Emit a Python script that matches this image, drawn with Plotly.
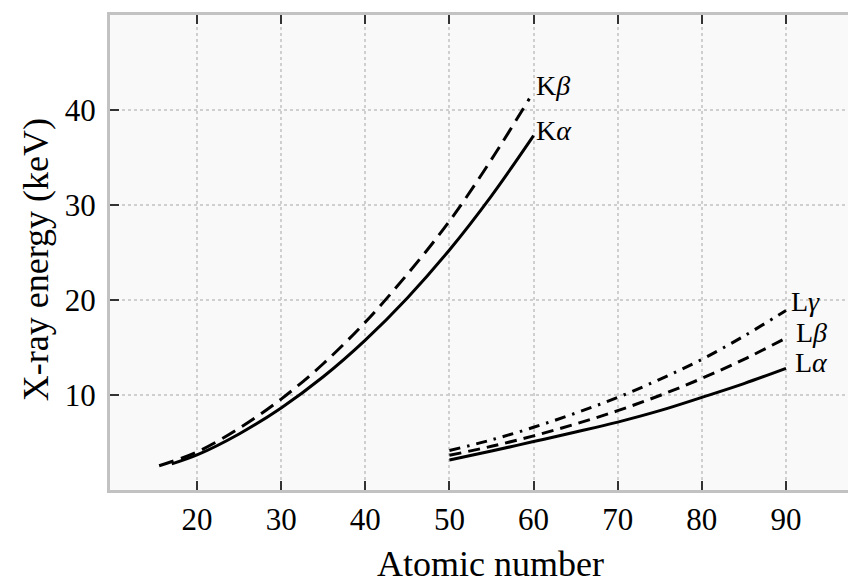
import plotly.graph_objects as go

# Data
z_ka = [17, 20, 25, 30, 35, 40, 45, 50, 55, 60]
e_ka = [2.75, 3.69, 5.90, 8.64, 11.92, 15.78, 20.22, 25.27, 30.97, 37.3]
z_kb = [15.5, 20, 25, 30, 35, 40, 45, 50, 55, 59.5]
e_kb = [2.55, 4.01, 6.49, 9.57, 13.29, 17.67, 22.72, 28.3, 34.8, 41.2]
z_l = [50, 55, 60, 65, 70, 75, 80, 85, 90]
e_la = [3.15, 4.10, 5.10, 6.10, 7.15, 8.35, 9.75, 11.2, 12.8]
e_lb = [3.65, 4.60, 5.70, 6.95, 8.35, 9.95, 11.75, 13.75, 16.0]
e_lg = [4.15, 5.28, 6.60, 8.10, 9.75, 11.65, 13.75, 16.2, 18.9]

labels = ["K<i>β</i>", "K<i>α</i>", "L<i>γ</i>", "L<i>β</i>", "L<i>α</i>"]
label_x = [60, 60, 90.4, 91.0, 90.8]
label_y = [42.6, 37.8, 19.8, 16.6, 13.4]

FONT = "Liberation Serif"
fig = go.Figure()

def add(x, y, dash):
    fig.add_trace(go.Scatter(x=x, y=y, mode="lines", line=dict(color="black", width=3, dash=dash, shape="spline"), showlegend=False, hoverinfo="skip"))

add(z_ka, e_ka, "solid")
add(z_kb, e_kb, "15px,8px")
add(z_l, e_la, "solid")
add(z_l, e_lb, "12px,7px")
add(z_l, e_lg, "11px,7px,2.5px,7px")

for t, x, y in zip(labels, label_x, label_y):
    fig.add_annotation(x=x, y=y, text=t, showarrow=False, xanchor="left", yanchor="middle",
                       font=dict(family=FONT, size=28, color="black"))

# axis titles as annotations
fig.add_annotation(xref="paper", yref="paper", x=0.504, y=-0.156, text="Atomic number",
                   showarrow=False, xanchor="center", yanchor="middle",
                   font=dict(family=FONT, size=36, color="black"))
fig.add_annotation(xref="paper", yref="paper", x=-0.098, y=0.484, text="X-ray energy (keV)",
                   showarrow=False, xanchor="center", yanchor="middle", textangle=-90,
                   font=dict(family=FONT, size=36, color="black"))

axis_common = dict(
    showline=True, linecolor="#c2c2c2", linewidth=3,
    ticks="inside", ticklen=9, tickwidth=2, tickcolor="#333333",
    showgrid=True, gridcolor="#cfcfcf", gridwidth=1.5, griddash="dot",
    zeroline=False, automargin=False,
    tickfont=dict(family=FONT, size=31, color="black"),
)

fig.update_xaxes(range=[9.66, 99.27], tickvals=[20, 30, 40, 50, 60, 70, 80, 90],
                 mirror="ticks", ticklabelstandoff=0, **axis_common)
fig.update_yaxes(range=[0, 50], tickvals=[10, 20, 30, 40], mirror=False,
                 ticklabelstandoff=5, **axis_common)

fig.update_layout(width=856, height=576, margin=dict(l=102, r=0, t=7, b=94),
                  plot_bgcolor="#f9f9f9", paper_bgcolor="white")

fig.write_html("out.html")
